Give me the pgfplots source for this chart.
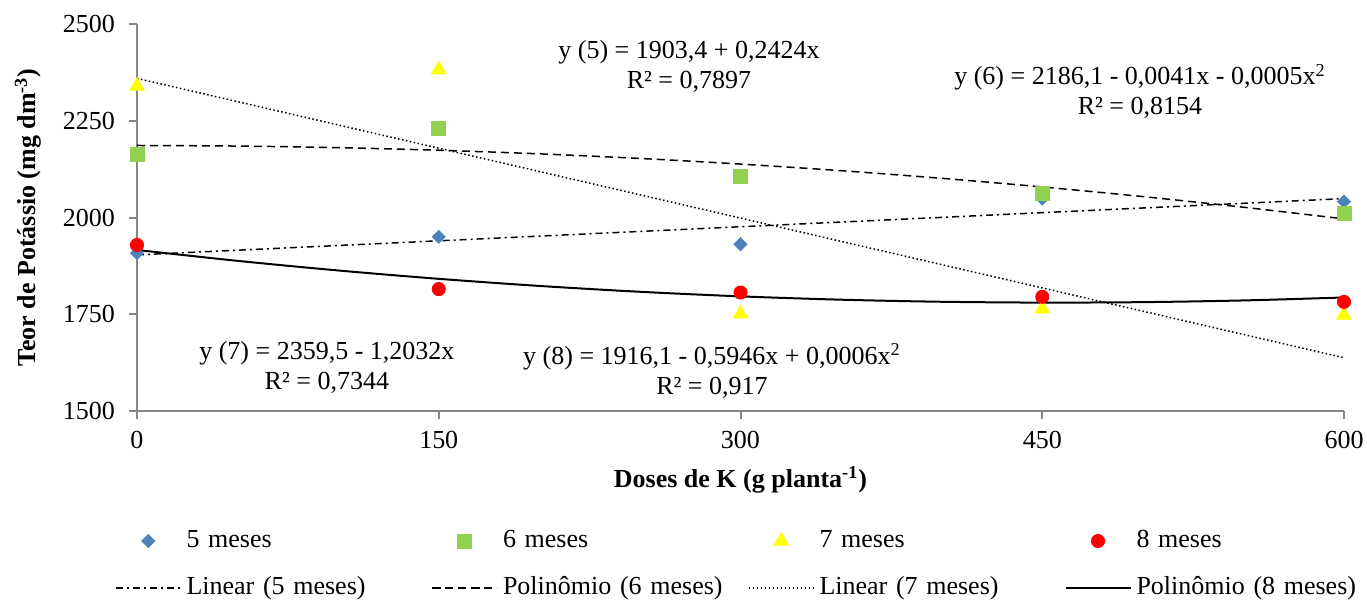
\documentclass[border=0pt]{standalone}
\usepackage{fontspec}
\setmainfont{Liberation Serif}
\usepackage{pgfplots}
\pgfplotsset{compat=1.18}
\definecolor{cfive}{HTML}{4F81BD}
\definecolor{csix}{HTML}{92D050}
\definecolor{cseven}{HTML}{FFFF00}
\definecolor{ceight}{HTML}{FF0000}
\definecolor{axisgray}{HTML}{868686}
\begin{document}
\fontsize{13}{15}\selectfont
\begin{tikzpicture}
\useasboundingbox (-68.5pt,-95pt) rectangle (615pt,205.5pt);
\begin{axis}[
  at={(0pt,0pt)}, anchor=south west,
  width=603.5pt, height=193.5pt, scale only axis,
  xmin=0, xmax=600, ymin=1500, ymax=2500,
  xtick={0,150,300,450,600}, ytick={1500,1750,2000,2250,2500},
  axis x line*=bottom, axis y line*=left,
  axis line style={draw=axisgray, line width=1pt},
  tick style={draw=axisgray, line width=1pt},
  major tick length=4pt, tick align=outside,
  /pgf/number format/assume math mode=true,
  /pgf/number format/1000 sep={},
  yticklabel style={xshift=-2.5pt},
  xticklabel style={yshift=-1.5pt},
  clip=false,
  xlabel={\textbf{Doses de K (g planta\textsuperscript{-1})}},
  ylabel={\textbf{Teor de Potássio (mg dm\textsuperscript{-3})}},
  xlabel style={at={(axis description cs:0.5,-0.178)}, anchor=center},
  ylabel style={at={(axis description cs:-0.0903,0.5)}, anchor=center},
  legend columns=4,
  legend cell align=left,
  legend image code/.code={\draw[mark repeat=2,mark phase=2,#1] plot coordinates {(0pt,0pt) (16.25pt,0pt) (32.5pt,0pt)};},
  legend style={draw=none, fill=none, inner sep=0pt, outer sep=0pt,
    at={(axis description cs:-0.0182,-0.305)}, anchor=north west,
    nodes={inner xsep=0pt, inner ysep=0pt, text height=9pt, text depth=3pt, text width=122.5pt, align=left},
    /tikz/every odd column/.append style={column sep=2.5pt},
    row sep=11.5pt},
]
\addplot[only marks, mark=square*, mark size=2.3pt, mark options={rotate=45, fill=cfive, draw=cfive}] coordinates {(0,1908) (150,1950) (300,1931) (450,2049) (600,2041)};
\addlegendentry{5 meses}
\addplot[only marks, mark=square*, mark size=3.5pt, mark options={fill=csix, draw=csix}] coordinates {(0,2162) (150,2231) (300,2105) (450,2063) (600,2010)};
\addlegendentry{6 meses}
\addplot[only marks, mark=triangle*, mark size=4.2pt, mark options={fill=cseven, draw=cseven}] coordinates {(0,2340) (150,2382) (300,1751) (450,1764) (600,1748)};
\addlegendentry{7 meses}
\addplot[only marks, mark=*, mark size=3.3pt, mark options={fill=ceight, draw=ceight}] coordinates {(0,1929) (150,1815) (300,1806) (450,1795) (600,1782)};
\addlegendentry{8 meses}
\addplot[black, line width=0.75pt, dash pattern=on 3.5pt off 2pt on 1pt off 2pt] coordinates {(0,1903.4) (600,2048.84)};
\addlegendentry{Linear (5 meses)}
\addplot[black, line width=0.75pt, dash pattern=on 4pt off 2.5pt, smooth] coordinates {(0,2186.1) (50,2184.595) (100,2180.49) (150,2173.785) (200,2164.48) (250,2152.575) (300,2138.07) (350,2120.965) (400,2101.26) (450,2078.955) (500,2054.05) (550,2026.545) (600,1996.44)};
\addlegendentry{Polinômio (6 meses)}
\addplot[black, line width=0.75pt, dash pattern=on 0.75pt off 1.25pt] coordinates {(0,2359.5) (600,1637.58)};
\addlegendentry{Linear (7 meses)}
\addplot[black, line width=1pt, smooth] coordinates {(0,1916.1) (50,1887.995) (100,1863.14) (150,1841.535) (200,1823.18) (250,1808.075) (300,1796.22) (350,1787.615) (400,1782.26) (450,1780.155) (500,1781.3) (550,1785.695) (600,1793.34)};
\addlegendentry{Polinômio (8 meses)}
\node[align=center] at (axis cs:274.4,2389) {y (5) = 1903,4 + 0,2424x\\R² = 0,7897};
\node[align=center] at (axis cs:498.6,2325.6) {y (6) = 2186,1 - 0,0041x - 0,0005x\textsuperscript{2}\\R² = 0,8154};
\node[align=center] at (axis cs:94.4,1613.7) {y (7) = 2359,5 - 1,2032x\\R² = 0,7344};
\node[align=center] at (axis cs:285.8,1603.4) {y (8) = 1916,1 - 0,5946x + 0,0006x\textsuperscript{2}\\R² = 0,917};
\end{axis}
\end{tikzpicture}
\end{document}
